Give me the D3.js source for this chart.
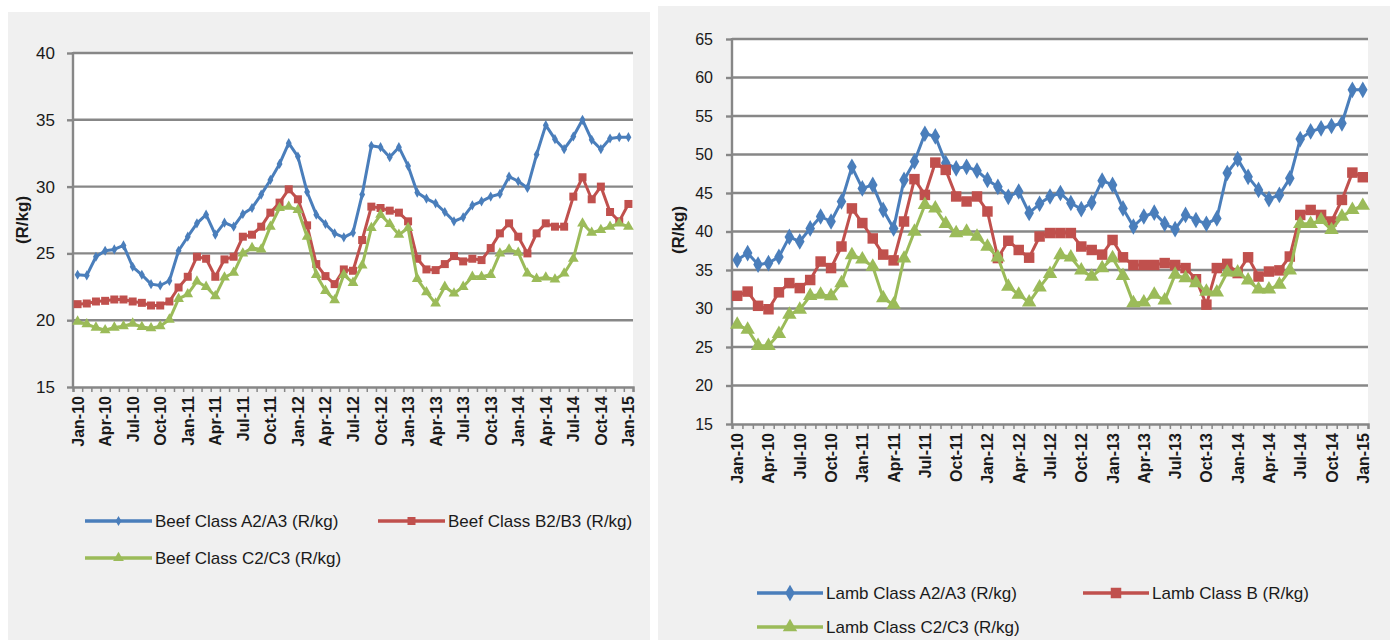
<!DOCTYPE html>
<html><head><meta charset="utf-8">
<script src="https://cdn.jsdelivr.net/npm/d3@7"></script>
<style>
body{margin:0;background:#fff;}
text{font-family:"Liberation Sans",Arial,sans-serif;fill:#1a1a1a;}
</style>
</head><body>
<svg id="c" width="1393" height="640"></svg>
<script>
// ---- categories (monthly, Jan-10 .. Jan-15) ----
const months = d3.timeMonth.range(new Date(2010,0,1), new Date(2015,1,1)).map(d3.timeFormat("%b-%y"));
const tickLabels = ["Jan-10","Apr-10","Jul-10","Oct-10","Jan-11","Apr-11","Jul-11","Oct-11","Jan-12","Apr-12","Jul-12","Oct-12","Jan-13","Apr-13","Jul-13","Oct-13","Jan-14","Apr-14","Jul-14","Oct-14","Jan-15"];
const beefTicks = [15,20,25,30,35,40];
const lambTicks = [15,20,25,30,35,40,45,50,55,60,65];

// ---- beef series (R/kg) ----
const beefA = [23.4,23.35,24.75,25.2,25.3,25.6,24.0,23.4,22.7,22.6,
  22.95,25.2,26.25,27.25,27.9,26.4,27.3,27.0,27.95,28.4,
  29.4,30.5,31.7,33.25,32.25,29.6,27.9,27.2,26.5,26.2,
  26.55,29.4,33.05,32.95,32.2,32.95,31.55,29.55,29.1,28.75,
  28.1,27.4,27.7,28.6,28.9,29.25,29.45,30.75,30.4,29.9,
  32.4,34.6,33.55,32.8,33.75,35.0,33.5,32.8,33.6,33.7,
  33.7];
const beefB = [21.2,21.25,21.4,21.45,21.55,21.55,21.4,21.3,21.1,21.1,
  21.4,22.45,23.25,24.75,24.6,23.25,24.55,24.75,26.25,26.4,
  27.0,28.05,28.8,29.8,29.05,27.1,24.2,23.3,22.7,23.8,
  23.7,26.0,28.5,28.4,28.2,28.05,27.4,24.6,23.8,23.75,
  24.2,24.8,24.4,24.6,24.5,25.4,26.5,27.25,26.25,25.0,
  26.5,27.25,27.0,27.0,29.25,30.7,29.05,30.0,28.1,27.4,
  28.7];
const beefC = [19.9,19.7,19.45,19.25,19.45,19.55,19.75,19.5,19.4,19.55,
  20.05,21.6,21.95,22.9,22.5,21.8,23.2,23.55,25.0,25.4,
  25.3,27.0,28.4,28.5,28.25,26.25,23.4,22.2,21.5,23.4,
  22.8,24.1,26.9,27.9,27.2,26.4,26.9,23.1,22.1,21.25,
  22.5,22.0,22.5,23.25,23.25,23.4,25.0,25.3,25.05,23.5,
  23.1,23.2,23.05,23.5,24.6,27.25,26.55,26.75,27.0,27.25,
  27.0];

// ---- lamb series (R/kg) ----
const lambA = [36.3,37.2,35.7,35.9,36.7,39.3,38.7,40.4,41.95,41.3,
  43.9,48.4,45.6,46.05,42.8,40.4,46.7,49.1,52.7,52.35,
  48.9,48.2,48.4,47.9,46.7,45.8,44.5,45.2,42.4,43.6,
  44.55,45.0,43.7,42.9,43.75,46.6,46.05,43.0,40.65,41.95,
  42.45,41.0,40.3,42.15,41.5,41.0,41.7,47.6,49.4,47.1,
  45.4,44.2,44.75,46.9,52.0,53.0,53.4,53.7,54.05,58.4,
  58.4];
const lambB = [31.65,32.2,30.35,29.9,32.1,33.3,32.65,33.7,36.1,35.25,
  38.05,43.0,41.1,39.1,37.0,36.25,41.3,46.8,44.75,48.95,
  48.0,44.55,43.9,44.55,42.6,36.55,38.8,37.6,36.6,39.35,
  39.8,39.8,39.8,38.05,37.6,37.0,38.9,36.65,35.65,35.65,
  35.65,35.9,35.65,35.25,33.8,30.5,35.25,35.8,34.6,36.65,
  34.15,34.8,34.95,36.75,42.15,42.8,42.15,41.3,44.1,47.65,
  47.05];
const lambC = [27.9,27.25,25.15,25.15,26.7,29.2,29.85,31.65,31.8,31.6,
  33.3,36.95,36.4,35.45,31.35,30.5,36.5,40.0,43.45,43.0,
  41.0,39.8,40.0,39.35,38.05,36.65,32.85,31.8,30.8,32.75,
  34.5,36.95,36.65,34.95,34.15,35.25,36.55,34.25,30.7,30.8,
  31.8,31.05,34.4,33.95,33.3,32.2,32.1,34.7,34.7,33.65,
  32.5,32.5,33.1,34.95,41.0,41.0,41.5,40.2,41.95,42.8,
  43.35];

const beefNames = ["Beef Class A2/A3 (R/kg)","Beef Class B2/B3 (R/kg)","Beef Class C2/C3 (R/kg)"];
const lambNames = ["Lamb Class A2/A3 (R/kg)","Lamb Class B (R/kg)","Lamb Class C2/C3 (R/kg)"];
const colors = ["#4a7ebb","#c0504d","#9bbb59"];
const symbols = [d3.symbolDiamond, d3.symbolSquare, d3.symbolTriangle];

const svg = d3.select("#c");
svg.append("rect").attr("width",1393).attr("height",640).attr("fill","#fff");

function drawChart(cfg){
  const g = svg.append("g");
  g.append("rect").attr("x",cfg.panel[0]).attr("y",cfg.panel[1]).attr("width",cfg.panel[2]).attr("height",cfg.panel[3]).attr("fill","#f0f0f0");
  const x = d3.scaleBand().domain(months).range([cfg.x0,cfg.x1]).padding(0);
  const xi = d3.scaleLinear().domain([0,months.length]).range([cfg.x0,cfg.x1]);
  const y = d3.scaleLinear().domain([cfg.ticks[0], cfg.ticks[cfg.ticks.length-1]]).range([cfg.yb,cfg.yt]);
  const bw = x.bandwidth();
  g.append("rect").attr("x",cfg.x0).attr("y",cfg.yt).attr("width",cfg.x1-cfg.x0).attr("height",cfg.yb-cfg.yt).attr("fill","#fff");
  // gridlines
  g.selectAll(".grid").data(cfg.ticks.slice(1)).join("line")
    .attr("x1",cfg.x0).attr("x2",cfg.x1).attr("y1",d=>y(d)).attr("y2",d=>y(d))
    .attr("stroke","#878787").attr("stroke-width",2.4);
  // y axis
  const ya = g.append("g").attr("transform",`translate(${cfg.x0},0)`)
    .call(d3.axisLeft(y).tickValues(cfg.ticks).tickSize(6).tickPadding(cfg.tickPad).tickFormat(d3.format("d")));
  ya.select(".domain").remove();
  ya.selectAll(".tick line").attr("stroke","#878787").attr("stroke-width",2.4);
  ya.selectAll(".tick text").attr("font-size",cfg.yFont).attr("fill","#1a1a1a").style("font-family",'"Liberation Sans",Arial,sans-serif');
  g.append("line").attr("x1",cfg.x0).attr("x2",cfg.x0).attr("y1",cfg.yt-1).attr("y2",cfg.yb+1).attr("stroke","#878787").attr("stroke-width",2.4);
  // x axis
  const xa = g.append("g").attr("transform",`translate(0,${cfg.yb})`)
    .call(d3.axisBottom(xi).tickValues(d3.range(months.length+1)).tickSize(5).tickFormat(""));
  xa.select(".domain").attr("stroke","#878787").attr("stroke-width",2.4);
  xa.selectAll(".tick line").attr("stroke","#878787").attr("stroke-width",1.5);
  g.selectAll(".xl").data(tickLabels).join("text")
    .attr("transform",d=>`translate(${x(d)+bw/2+6},${cfg.yb+9}) rotate(-90)`)
    .attr("text-anchor","end").attr("font-size",cfg.xFont).attr("font-weight","bold").text(d=>d);
  // axis title
  g.append("text").attr("transform",`translate(${cfg.titleX},${cfg.titleY}) rotate(-90)`)
    .attr("text-anchor","middle").attr("font-size",17).attr("font-weight","bold").text("(R/kg)");
  // series
  const line = d3.line().x((d,i)=>x(months[i])+bw/2).y(d=>y(d));
  cfg.series.forEach((s,k)=>{
    g.append("path").datum(s).attr("d",line).attr("fill","none").attr("stroke",colors[k]).attr("stroke-width",3).attr("stroke-linejoin","round");
    g.selectAll(".m"+k).data(s).join("path")
      .attr("transform",(d,i)=>`translate(${x(months[i])+bw/2},${y(d)})`)
      .attr("d",d3.symbol().type(symbols[k]).size(cfg.msize[k])).attr("fill",colors[k]);
  });
  // legend
  cfg.names.forEach((n,k)=>{
    const p = cfg.legend[k];
    g.append("line").attr("x1",p[0]).attr("x2",p[0]+cfg.legLen).attr("y1",p[1]).attr("y2",p[1]).attr("stroke",colors[k]).attr("stroke-width",3.5);
    g.append("path").attr("transform",`translate(${p[0]+cfg.legLen/2},${p[1]})`).attr("d",d3.symbol().type(symbols[k]).size(cfg.msize[k])).attr("fill",colors[k]);
    g.append("text").attr("x",p[0]+cfg.legLen+3).attr("y",p[1]).attr("dy","0.35em").attr("font-size",cfg.legFont).text(n);
  });
}

drawChart({
  panel:[8,12,642,628], x0:73, x1:633, yt:53, yb:387, ticks:beefTicks, tickPad:12,
  yFont:17, xFont:16, titleX:28, titleY:220,
  series:[beefA,beefB,beefC], names:beefNames, msize:[30,64,50],
  legend:[[85,521],[378,521],[85,558]], legLen:67, legFont:17
});
drawChart({
  panel:[658,6,732,634], x0:732, x1:1368, yt:39, yb:424, ticks:lambTicks, tickPad:13,
  yFont:16, xFont:16, titleX:684, titleY:230,
  series:[lambA,lambB,lambC], names:lambNames, msize:[80,110,90],
  legend:[[757,593],[1083,593],[757,627]], legLen:66, legFont:17
});
</script>
</body></html>
